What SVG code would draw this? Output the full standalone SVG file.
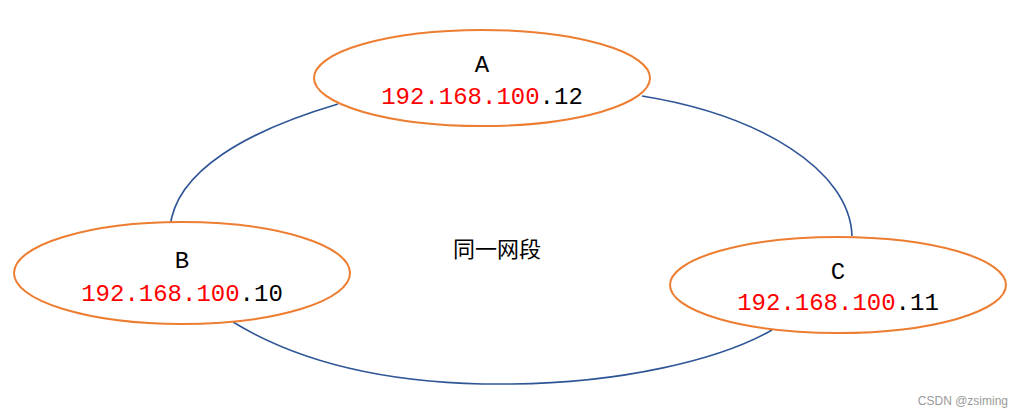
<svg xmlns="http://www.w3.org/2000/svg" width="1024" height="417" viewBox="0 0 1024 417">
<style>
.n{fill:#fff;stroke:#ED7D31;stroke-width:2}
.c{fill:none;stroke:#2F5597;stroke-width:1.6}
.t{font-family:"Liberation Mono","DejaVu Sans Mono",monospace;font-size:24px;text-anchor:middle;fill:#000}
.r{fill:#FF0000}
</style>
<rect width="1024" height="417" fill="#fff"/>
<g id="connectors">
<path class="c" d="M338,104 C250,130 175,170 170,228"/>
<path class="c" d="M642,96 C760,115 850,170 852,236"/>
<path class="c" d="M233,322 C320,375 430,385 512,384 C620,383 720,360 772,330"/>
</g>
<g id="A">
<ellipse class="n" cx="482" cy="78" rx="168" ry="48"/>
<text class="t" x="482" y="72">A</text>
<text class="t" x="482" y="104"><tspan class="r">192.168.100</tspan>.12</text>
</g>
<g id="B">
<ellipse class="n" cx="182" cy="273" rx="168" ry="51"/>
<text class="t" x="182" y="268">B</text>
<text class="t" x="182" y="301"><tspan class="r">192.168.100</tspan>.10</text>
</g>
<g id="C">
<ellipse class="n" cx="838" cy="285" rx="168" ry="48"/>
<text class="t" x="838" y="279">C</text>
<text class="t" x="838" y="310"><tspan class="r">192.168.100</tspan>.11</text>
</g>
<text x="497" y="257" font-family="Noto Sans CJK SC,sans-serif" font-size="22" text-anchor="middle">同一网段</text>
<text x="1008" y="405" font-family="Liberation Sans,sans-serif" font-size="12" fill="#999" text-anchor="end">CSDN @zsiming</text>
</svg>
